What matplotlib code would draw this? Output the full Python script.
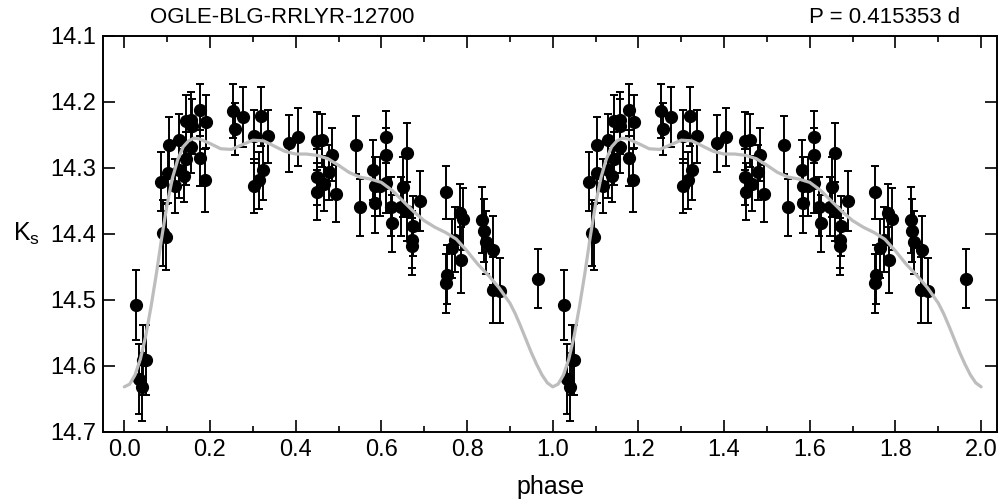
import matplotlib
matplotlib.use("Agg")
import matplotlib.pyplot as plt
from matplotlib.ticker import MultipleLocator, FormatStrFormatter
from matplotlib import font_manager
import numpy as np

names = {f.name for f in font_manager.fontManager.ttflist}
main_font = 'Liberation Sans Narrow' if 'Liberation Sans Narrow' in names else 'Liberation Sans'
plt.rcParams['font.family'] = [main_font, 'Liberation Sans', 'DejaVu Sans']
plt.rcParams['mathtext.fontset'] = 'custom'
plt.rcParams['mathtext.rm'] = main_font

star_name = "OGLE-BLG-RRLYR-12700"
period_text = "P = 0.415353 d"

phase = [0.027, 0.034, 0.041, 0.044, 0.050, 0.091, 0.097, 0.085, 0.104, 0.103,
         0.118, 0.128, 0.128, 0.139, 0.143, 0.144, 0.156, 0.157, 0.156, 0.177,
         0.190, 0.177, 0.188, 0.253, 0.258, 0.276, 0.303, 0.303, 0.315, 0.324,
         0.320, 0.336, 0.384, 0.405, 0.449, 0.461, 0.449, 0.450, 0.466, 0.484,
         0.478, 0.494, 0.540, 0.550, 0.581, 0.585, 0.585, 0.611, 0.611, 0.611,
         0.597, 0.622, 0.626, 0.659, 0.651, 0.647, 0.660, 0.673, 0.671, 0.671,
         0.690, 0.752, 0.754, 0.752, 0.764, 0.773, 0.785, 0.783, 0.791, 0.836,
         0.839, 0.844, 0.861, 0.860, 0.877, 0.965]
mag = [14.508, 14.620, 14.632, 14.591, 14.592, 14.399, 14.405, 14.321, 14.265, 14.308,
       14.327, 14.258, 14.303, 14.312, 14.229, 14.286, 14.227, 14.237, 14.268, 14.212,
       14.230, 14.285, 14.319, 14.214, 14.241, 14.223, 14.252, 14.327, 14.319, 14.303,
       14.222, 14.252, 14.263, 14.253, 14.259, 14.258, 14.314, 14.336, 14.324, 14.280,
       14.307, 14.339, 14.265, 14.360, 14.303, 14.328, 14.353, 14.253, 14.280, 14.323,
       14.328, 14.359, 14.384, 14.277, 14.329, 14.359, 14.366, 14.388, 14.409, 14.419,
       14.350, 14.337, 14.462, 14.475, 14.422, 14.409, 14.439, 14.369, 14.378, 14.379,
       14.395, 14.413, 14.425, 14.485, 14.486, 14.468]
err = [0.053, 0.053, 0.052, 0.053, 0.053, 0.050, 0.050, 0.045, 0.042, 0.045,
       0.041, 0.040, 0.042, 0.040, 0.040, 0.040, 0.042, 0.042, 0.040, 0.039,
       0.040, 0.042, 0.048, 0.041, 0.040, 0.045, 0.040, 0.041, 0.043, 0.045,
       0.045, 0.040, 0.043, 0.044, 0.044, 0.040, 0.042, 0.043, 0.042, 0.040,
       0.042, 0.043, 0.044, 0.043, 0.045, 0.045, 0.045, 0.040, 0.040, 0.045,
       0.045, 0.045, 0.043, 0.045, 0.045, 0.045, 0.045, 0.045, 0.043, 0.043,
       0.046, 0.040, 0.045, 0.045, 0.045, 0.049, 0.050, 0.045, 0.047, 0.050,
       0.048, 0.048, 0.052, 0.050, 0.049, 0.045]

model_phase = [0.0000, 0.0125, 0.0250, 0.0375, 0.0500, 0.0625, 0.0750, 0.0875, 0.1000, 0.1125,
               0.1250, 0.1375, 0.1500, 0.1625, 0.1750, 0.2000, 0.2250, 0.2500, 0.2750, 0.3000,
               0.3250, 0.3500, 0.3750, 0.4000, 0.4250, 0.4500, 0.4750, 0.5000, 0.5250, 0.5500,
               0.5750, 0.6000, 0.6250, 0.6500, 0.6750, 0.7000, 0.7250, 0.7500, 0.7750, 0.8000,
               0.8250, 0.8500, 0.8750, 0.9000, 0.9125, 0.9250, 0.9375, 0.9500, 0.9625, 0.9750,
               0.9875, 1.0000]
model_mag = [14.632, 14.628, 14.614, 14.590, 14.555, 14.510, 14.460, 14.405, 14.355, 14.315,
             14.287, 14.268, 14.259, 14.255, 14.256, 14.263, 14.271, 14.272, 14.265, 14.258,
             14.259, 14.267, 14.275, 14.279, 14.279, 14.281, 14.286, 14.296, 14.307, 14.314,
             14.317, 14.322, 14.334, 14.350, 14.366, 14.380, 14.390, 14.398, 14.408, 14.426,
             14.446, 14.463, 14.482, 14.505, 14.521, 14.540, 14.560, 14.580, 14.598, 14.614,
             14.626, 14.632]

fig = plt.figure(figsize=(10.02, 5.04), dpi=100)
ax = fig.add_axes([0.1031, 0.1435, 0.8919, 0.7851])

ph = np.array(phase)
mg = np.array(mag)
er = np.array(err)
for shift in (0.0, 1.0):
    ax.errorbar(ph + shift, mg, yerr=er, fmt='o', color='black', ms=8.5,
                elinewidth=1.4, capsize=2.6, capthick=1.4, zorder=2)

mp = np.array(model_phase)
mm = np.array(model_mag)
ax.plot(np.concatenate([mp, mp[1:] + 1.0]), np.concatenate([mm, mm[1:]]),
        color='#bdbdbd', lw=2.3, zorder=3, solid_capstyle='round',
        solid_joinstyle='round')

ax.set_xlim(-0.049, 2.037)
ax.set_ylim(14.7, 14.1)
ax.xaxis.set_major_locator(MultipleLocator(0.2))
ax.xaxis.set_minor_locator(MultipleLocator(0.1))
ax.yaxis.set_major_locator(MultipleLocator(0.1))
ax.xaxis.set_major_formatter(FormatStrFormatter('%.1f'))
ax.yaxis.set_major_formatter(FormatStrFormatter('%.1f'))
ax.tick_params(which='both', direction='in', top=True, right=True, width=1.2,
               labelsize=17)
ax.tick_params(which='major', length=8.5, pad=5)
ax.tick_params(which='minor', length=4)
for s in ax.spines.values():
    s.set_linewidth(1.4)

ax.set_xlabel('phase', fontsize=18, labelpad=10)
ax.set_ylabel(r'K$_\mathrm{s}$', fontsize=18, rotation=0, labelpad=17, va='center')

fig.text(0.282, 0.965, star_name, fontsize=16, ha='center', va='center')
fig.text(0.958, 0.965, period_text, fontsize=16, ha='right', va='center')

fig.savefig('out.png', dpi=100)
